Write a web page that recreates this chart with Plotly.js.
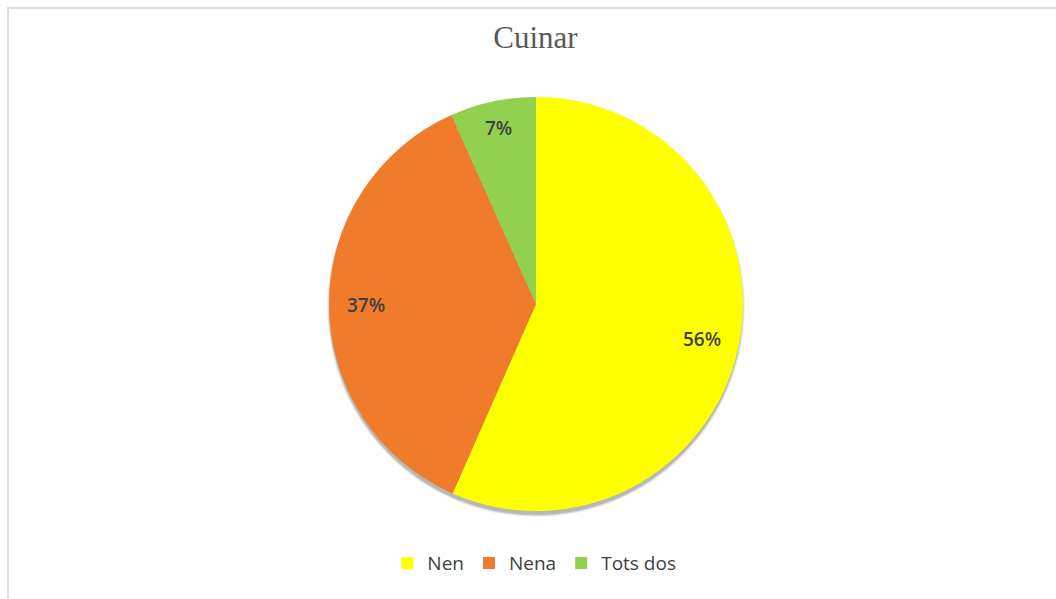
<!DOCTYPE html>
<html>
<head>
<meta charset="utf-8">
<script src="https://cdn.plot.ly/plotly-3.0.1.min.js"></script>
<style>
  html, body { margin: 0; padding: 0; background: #fff; }
  #wrap  { position: relative; width: 1056px; height: 599px; overflow: hidden; }
  #plot  { position: absolute; left: 0; top: 0; width: 1056px; height: 599px; }
  #frame { position: absolute; left: 7px; top: 7px; right: -10px; bottom: -10px;
           border-left: 2px solid #dcdcdc; border-top: 2px solid #dcdcdc;
           pointer-events: none; }
</style>
</head>
<body>
<div id="wrap">
  <div id="plot"></div>
  <div id="frame"></div>
</div>
<script>
  // ─── Data ────────────────────────────────────────────────────────────────
  var labels     = ['Nen', 'Nena', 'Tots dos'];
  var values     = [56.6, 36.7, 6.7];          // slice shares
  var pctLabels  = ['56%', '37%', '7%'];       // percentages printed on the slices
  var colors     = ['#FFFF00', '#EF7B2B', '#92D050'];

  // ─── Geometry (pie placement in the window) ──────────────────────────────
  var W = 1056, H = 599;
  var cx = 536, cy = 304, R = 207;
  var dom = {
    x: [(cx - R) / W, (cx + R) / W],
    y: [(H - cy - R) / H, (H - cy + R) / H]
  };

  // label positions follow the slice mid-angles (clockwise from 12 o'clock)
  var total = values.reduce(function (a, b) { return a + b; }, 0);
  var acc = 0;
  var annotations = values.map(function (v, i) {
    var mid = (acc + v / 2) / total * 2 * Math.PI;
    acc += v;
    var k = v / total < 0.1 ? 0.87 : 0.82;
    return {
      xref: 'paper', yref: 'paper',
      x: cx / W + k * R * Math.sin(mid) / W,
      y: (H - cy) / H + k * R * Math.cos(mid) / H,
      xanchor: 'center', yanchor: 'middle',
      text: pctLabels[i],
      showarrow: false,
      font: { family: 'Open Sans, sans-serif', size: 19, weight: 600, color: '#404040' }
    };
  });

  // soft drop shadow under the pie: a few faint discs shifted downwards
  var shadow = [3, 2, 1].map(function (d, i) {
    return {
      type: 'circle', layer: 'below',
      xref: 'paper', yref: 'paper',
      x0: (cx - R - d + 1) / W, x1: (cx + R + d - 1) / W,
      y0: (H - cy - R - d - 3) / H, y1: (H - cy + R + d - 3) / H,
      fillcolor: 'rgba(0,0,0,' + (0.05 + i * 0.05) + ')',
      line: { width: 0 }
    };
  });

  var trace = {
    type: 'pie',
    labels: labels,
    values: values,
    sort: false,
    direction: 'clockwise',
    rotation: 0,
    textinfo: 'none',
    hoverinfo: 'label',
    marker: { colors: colors, line: { width: 0 } },
    domain: dom
  };

  var layout = {
    width: W,
    height: H,
    margin: { l: 0, r: 0, t: 0, b: 0 },
    paper_bgcolor: 'rgba(0,0,0,0)',
    plot_bgcolor: 'rgba(0,0,0,0)',
    title: {
      text: 'Cuinar',
      x: 0.507, xanchor: 'center',
      y: 0.92, yanchor: 'bottom',
      font: { family: 'Liberation Serif, Times New Roman, serif', size: 31, color: '#595959' }
    },
    showlegend: true,
    legend: {
      orientation: 'h',
      x: 0.506, xanchor: 'center',
      y: 0.06, yanchor: 'middle',
      font: { family: 'Open Sans, sans-serif', size: 19, color: '#404040' },
      itemwidth: 30,
      traceorder: 'normal'
    },
    shapes: shadow,
    annotations: annotations
  };

  Plotly.newPlot('plot', [trace], layout, { displayModeBar: false, staticPlot: true });
</script>
</body>
</html>
